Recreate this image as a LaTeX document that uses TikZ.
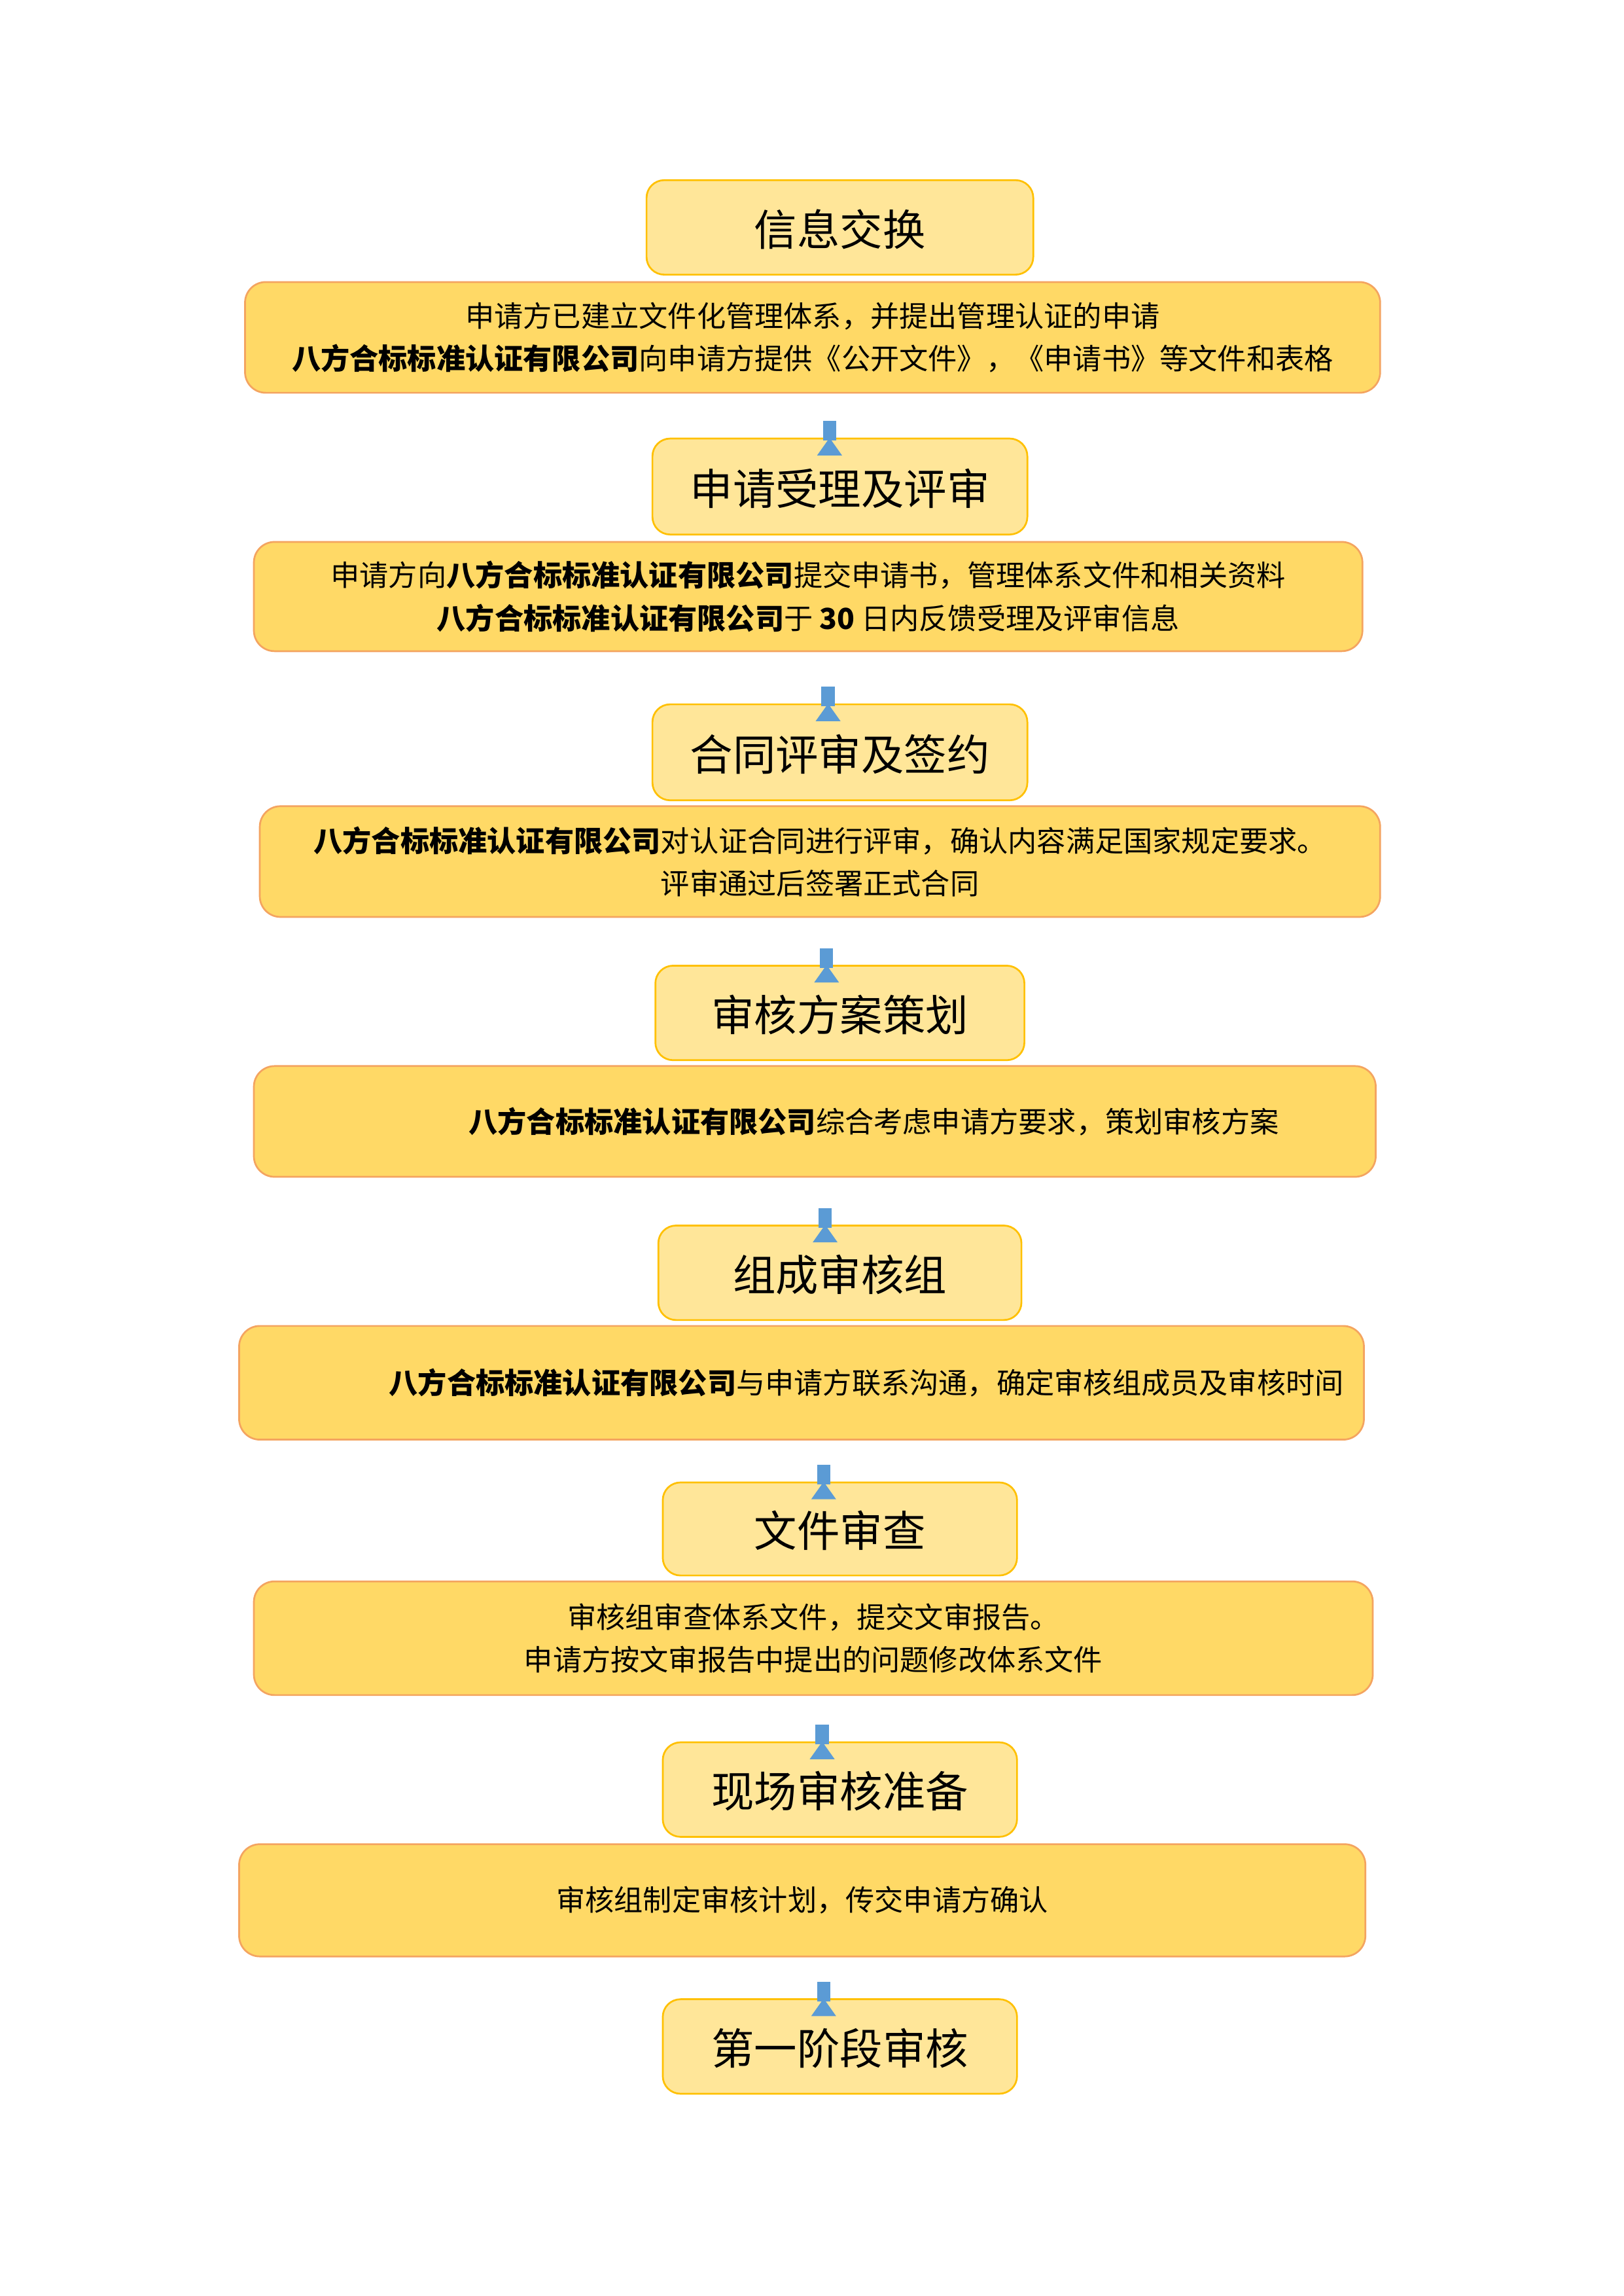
\documentclass[tikz,border=0pt]{standalone}
\usepackage{fontspec}
\setmainfont{Noto Sans CJK SC}
\usetikzlibrary{arrows.meta,calc}
\definecolor{tfill}{HTML}{FFE699}
\definecolor{tdraw}{HTML}{FFC000}
\definecolor{dfill}{HTML}{FFD966}
\definecolor{ddraw}{HTML}{F4A460}
\definecolor{arrc}{HTML}{5B9BD5}
\begin{document}
\begin{tikzpicture}[x=0.5pt,y=-0.5pt,
 title/.style={draw=tdraw,fill=tfill,line width=0.6pt,rounded corners=6pt,font=\fontsize{14.5pt}{17pt}\selectfont,inner sep=0pt,text depth=-2pt},
 desc/.style={draw=ddraw,fill=dfill,line width=0.6pt,rounded corners=7pt,font=\fontsize{9.8pt}{14.5pt}\selectfont,align=center,inner sep=0pt},
 flow/.style={draw=arrc!70!black,line width=4.5pt,arrc,-{Triangle[width=8pt,length=6pt]},shorten <=-1pt}]
\useasboundingbox (0,0) rectangle (1100,1555);
\def\co{\textbf{八方合标标准认证有限公司}}
\node[title,minimum width=131pt,minimum height=32pt] (t1) at (569,154) {信息交换};
\node[desc,minimum width=384.5pt,minimum height=37.5pt] (d1) at (550.5,228.5) {申请方已建立文件化管理体系，并提出管理认证的申请\\ \co 向申请方提供《公开文件》，《申请书》等文件和表格};
\node[title,minimum width=127pt,minimum height=32.5pt] (t2) at (569,329.5) {申请受理及评审};
\node[desc,minimum width=375.5pt,minimum height=37pt] (d2) at (547.5,404) {申请方向\co 提交申请书，管理体系文件和相关资料\\ \co 于 \textbf{30} 日内反馈受理及评审信息};
\node[title,minimum width=127pt,minimum height=32.5pt] (t3) at (569,509.5) {合同评审及签约};
\node[desc,minimum width=379.5pt,minimum height=37.5pt] (d3) at (555.5,583.5) {\co 对认证合同进行评审，确认内容满足国家规定要求。\\ 评审通过后签署正式合同};
\node[title,minimum width=125pt,minimum height=32pt] (t4) at (569,686) {审核方案策划};
\node[desc,minimum width=380pt,minimum height=37.5pt] (d4) at (552,759.5) {\hspace{40pt}\co 综合考虑申请方要求，策划审核方案};
\node[title,minimum width=123pt,minimum height=32pt] (t5) at (569,862) {组成审核组};
\node[desc,minimum width=381pt,minimum height=38.5pt] (d5) at (543,936.5) {\hspace{44pt}\co 与申请方联系沟通，确定审核组成员及审核时间};
\node[title,minimum width=120pt,minimum height=31.5pt] (t6) at (569,1035.5) {文件审查};
\node[desc,minimum width=379pt,minimum height=38.5pt] (d6) at (551,1109.5) {审核组审查体系文件，提交文审报告。\\ 申请方按文审报告中提出的问题修改体系文件};
\node[title,minimum width=120pt,minimum height=32pt] (t7) at (569,1212) {现场审核准备};
\node[desc,minimum width=381.5pt,minimum height=38pt] (d7) at (543.5,1287) {审核组制定审核计划，传交申请方确认};
\node[title,minimum width=120pt,minimum height=32pt] (t8) at (569,1386) {第一阶段审核};
\foreach \a/\b/\dx in {d1/t2/-7,d2/t3/-8,d3/t4/-9,d4/t5/-10,d5/t6/-11,d6/t7/-12,d7/t8/-11}{
  \draw[flow] ($(\b.north)+(\dx,0)$ |- \a.south) -- ($(\b.north)+(\dx,0)$);
}
\end{tikzpicture}
\end{document}
